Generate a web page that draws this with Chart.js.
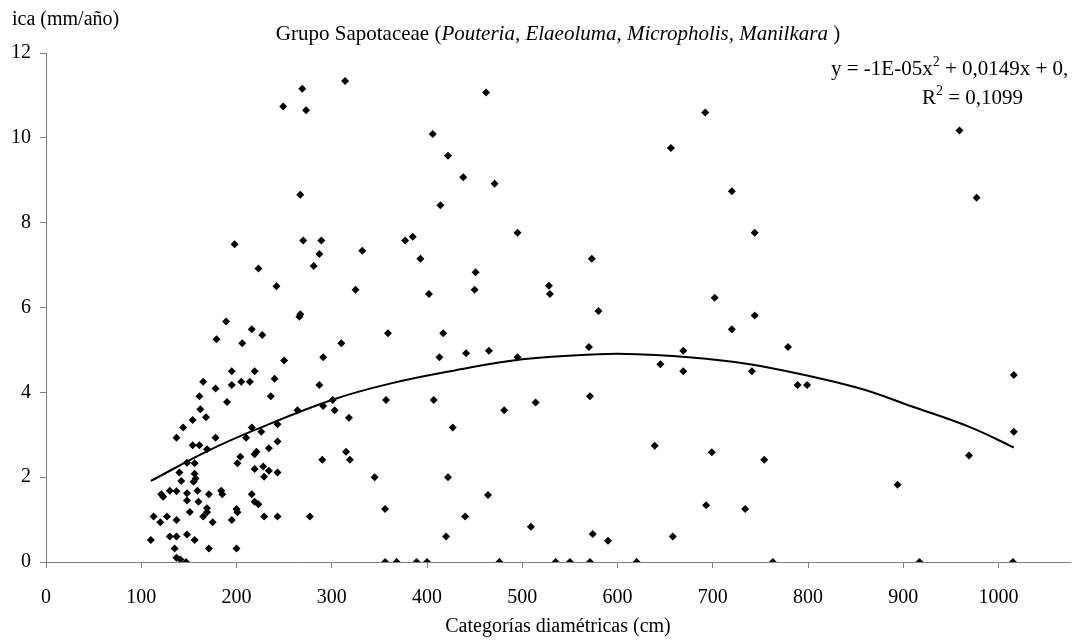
<!DOCTYPE html>
<html><head><meta charset="utf-8">
<script src="https://cdn.jsdelivr.net/npm/chart.js@4.4.1/dist/chart.umd.min.js"></script>
<style>html,body{margin:0;padding:0;background:#fff}#wrap{width:1074px;height:641px;position:relative}</style>
</head><body><div id="wrap"><canvas id="c"></canvas></div>
<script>
// Diameter class (cm) and growth (mm/año)
const diamCm = [
189,179,216,227,206,195,219,165,178,195,205,214,240,161,190,236,162,168,154,144,
137,178,154,161,169,216,210,226,243,204,201,219,221,234,148,156,219,228,229,234,
243,140,142,156,157,155,121,123,130,137,148,148,159,171,160,184,185,216,219,223,
151,169,169,165,175,200,201,195,229,243,113,120,127,137,110,130,137,148,156,135,
171,200,137,141,147,
314,269,249,273,267,198,270,289,287,332,223,281,242,325,
266,267,250,310,359,417,291,413,287,264,291,301,303,318,357,407,427,243,315,319,
290,345,422,277,356,420,356,368,389,400,
462,406,422,438,471,414,495,377,385,393,573,451,450,402,528,529,580,
441,465,495,570,645,669,669,571,514,481,639,464,440,509,574,590,658,476,535,550,571,620,
692,656,720,744,702,959,977,
744,720,779,741,789,799,1016,1016,699,754,969,894,693,734,763,917,1015
];
const growth = [
5.67,5.25,5.49,5.35,5.16,4.50,4.50,4.25,4.09,4.17,4.25,4.25,4.32,3.91,3.77,3.91,3.60,3.41,3.35,3.17,
2.93,2.93,2.75,2.75,2.66,3.17,2.93,3.07,2.84,2.48,2.33,2.54,2.60,2.68,2.34,2.33,2.19,2.25,2.01,2.15,
2.11,2.11,1.91,2.08,1.97,1.89,1.60,1.54,1.68,1.67,1.62,1.45,1.68,1.60,1.42,1.68,1.60,1.60,1.42,1.36,
1.18,1.27,1.17,1.07,0.94,1.25,1.17,0.99,1.07,1.07,1.07,0.94,1.07,0.99,0.52,0.60,0.60,0.65,0.52,0.32,
0.32,0.32,0.10,0.06,0.00,
11.34,11.16,10.74,10.65,8.66,7.49,7.58,7.58,7.26,7.34,6.92,6.98,6.50,6.42,
5.78,5.84,4.75,5.16,5.39,5.39,4.83,4.83,4.17,3.58,3.68,3.82,3.58,3.40,3.82,3.82,3.17,3.25,2.60,2.41,
2.41,2.00,2.00,1.07,1.25,0.60,0,0,0,0,
11.07,10.09,9.58,9.07,8.92,8.41,7.76,7.58,7.67,7.15,7.15,6.83,6.42,6.32,6.51,6.32,5.92,
4.92,4.98,4.83,5.07,4.66,4.98,4.50,3.91,3.76,3.58,2.74,1.58,1.07,0.83,0.66,0.50,0.60,0,0,0,0,0,
10.60,9.76,8.74,7.76,6.23,10.17,8.59,
5.81,5.49,5.07,4.50,4.17,4.17,4.41,3.07,2.59,2.41,2.51,1.82,1.34,1.25,0,0,0
];
// Polynomial trend line at a few positions
const trendX = [110,170,220,300,360,430,500,580,620,690,750,850,910,970,1016];
const trendY = [1.91,2.62,3.12,3.82,4.20,4.52,4.78,4.90,4.90,4.80,4.62,4.12,3.66,3.18,2.70];

const xTicks = [0,100,200,300,400,500,600,700,800,900,1000];
const yTicks = [0,2,4,6,8,10,12];

const titleStart = 'Grupo Sapotaceae (';
const titleItalic = 'Pouteria, Elaeoluma, Micropholis, Manilkara';
const titleEnd = ' )';
const yAxisLabel = 'ica (mm/año)';
const xAxisLabel = 'Categorías diamétricas (cm)';
const eqParts = ['y = -1E-05x', '2', ' + 0,0149x + 0,'];
const r2Parts = ['R', '2', ' = 0,1099'];

const FONT = '"Liberation Serif", "Times New Roman", serif';

const textPlugin = {
  id: 'texts',
  afterDraw(chart) {
    const ctx = chart.ctx, ca = chart.chartArea;
    ctx.save();
    ctx.fillStyle = '#000';
    ctx.textBaseline = 'alphabetic';
    // title (mixed styles)
    const fN = '21px ' + FONT, fI = 'italic 21px ' + FONT;
    ctx.font = fN; const w1 = ctx.measureText(titleStart).width, w3 = ctx.measureText(titleEnd).width;
    ctx.font = fI; const w2 = ctx.measureText(titleItalic).width;
    let x = (ca.left + ca.right) / 2 - (w1 + w2 + w3) / 2;
    const ty = 40;
    ctx.textAlign = 'left';
    ctx.font = fN; ctx.fillText(titleStart, x, ty); x += w1;
    ctx.font = fI; ctx.fillText(titleItalic, x, ty); x += w2;
    ctx.font = fN; ctx.fillText(titleEnd, x, ty);
    // y axis label (cut at left edge)
    ctx.font = '20px ' + FONT;
    ctx.fillText(yAxisLabel, 12, 25);
    // x axis label
    ctx.textAlign = 'center';
    ctx.fillText(xAxisLabel, (ca.left + ca.right) / 2, 632);
    // equation and R2
    ctx.textAlign = 'left';
    const drawSup = (parts, x0, y0) => {
      let xx = x0;
      ctx.font = '21px ' + FONT; ctx.fillText(parts[0], xx, y0); xx += ctx.measureText(parts[0]).width;
      ctx.font = '14px ' + FONT; ctx.fillText(parts[1], xx, y0 - 9); xx += ctx.measureText(parts[1]).width;
      ctx.font = '21px ' + FONT; ctx.fillText(parts[2], xx, y0);
    };
    drawSup(eqParts, 831, 75);
    drawSup(r2Parts, 922, 104);
    ctx.restore();
  }
};

const axisCommon = {
  grid: { display: true, drawOnChartArea: false, drawTicks: true, tickLength: 6, color: '#808080', lineWidth: 1 },
  border: { display: true, color: '#808080', width: 1 }
};

new Chart(document.getElementById('c'), {
  type: 'scatter',
  data: {
    datasets: [
      {
        type: 'line',
        data: trendX.map((v, i) => ({ x: v, y: trendY[i] })),
        borderColor: '#000', borderWidth: 2, pointRadius: 0, tension: 0.4, fill: false
      },
      {
        data: diamCm.map((v, i) => ({ x: v, y: growth[i] })),
        pointStyle: 'rectRot', pointRadius: 4, backgroundColor: '#000', borderColor: '#000', borderWidth: 0
      }
    ]
  },
  options: {
    responsive: true, maintainAspectRatio: false, animation: false,
    layout: { padding: { top: 53, right: 4, left: 0, bottom: 0 } },
    plugins: { legend: { display: false }, tooltip: { enabled: false }, title: { display: false } },
    scales: {
      x: Object.assign({}, axisCommon, {
        type: 'linear', min: 0, max: 1075,
        afterBuildTicks: s => { s.ticks = xTicks.map(v => ({ value: v })); },
        ticks: { font: { family: FONT, size: 20 }, color: '#000', padding: 18, maxRotation: 0, includeBounds: false,
                 callback: v => String(v) },
        afterFit: s => { s.height = 79; }
      }),
      y: Object.assign({}, axisCommon, {
        type: 'linear', min: 0, max: 12,
        afterBuildTicks: s => { s.ticks = yTicks.map(v => ({ value: v })); },
        ticks: { font: { family: FONT, size: 20 }, color: '#000', padding: 9, callback: v => String(v) },
        afterFit: s => { s.width = 46; }
      })
    }
  },
  plugins: [textPlugin]
});
</script>
</body></html>
